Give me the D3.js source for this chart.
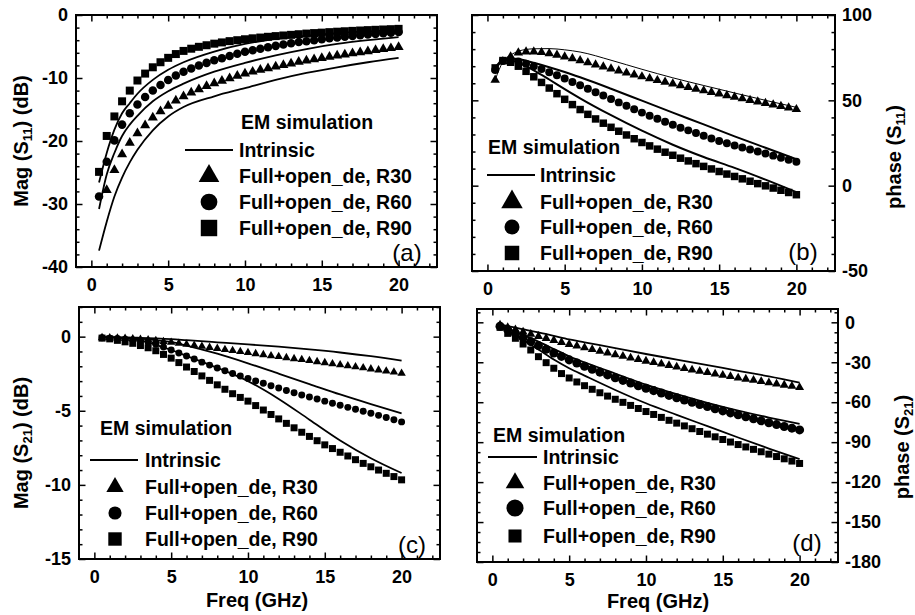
<!DOCTYPE html>
<html>
<head>
<meta charset="utf-8">
<script src="https://cdn.jsdelivr.net/npm/d3@7"></script>
<style>
  body { margin: 0; background: #fff; }
  svg { display: block; }
  text { font-family: "Liberation Sans", Arial, sans-serif; }
</style>
</head>
<body>
<svg id="fig" width="915" height="615"></svg>
<script>
// ---- data -----------------------------------------------------------------
const freq = [0.5,1,1.5,2,2.5,3,3.5,4,4.5,5,5.5,6,6.5,7,7.5,8,8.5,9,9.5,10,
              10.5,11,11.5,12,12.5,13,13.5,14,14.5,15,15.5,16,16.5,17,17.5,18,18.5,19,19.5,20];
const lineFreq = [0.5,1,1.5,2,2.5,3,4,5,6,8,10,12,14,16,18,20];

const legendTitle = "EM simulation";
const lineName = "Intrinsic";
const seriesNames = ["Full+open_de, R30", "Full+open_de, R60", "Full+open_de, R90"];

const xTicks = [0, 5, 10, 15, 20];
const s11MagTicks = [0, -10, -20, -30, -40];
const s11PhaseTicks = [100, 50, 0, -50];
const s21MagTicks = [0, -5, -10, -15];
const s21PhaseTicks = [0, -30, -60, -90, -120, -150, -180];

// Mag(S11), dB
const s11MagR30 = [null,-27.8,-24.6,-22.1,-20.3,-18.8,-17.5,-16.3,-15.3,-14.4,-13.6,-12.9,-12.3,-11.8,-11.3,-10.85,-10.45,-10.05,-9.65,-9.3,
                   -9.0,-8.7,-8.45,-8.2,-7.95,-7.7,-7.45,-7.25,-7.05,-6.85,-6.65,-6.45,-6.27,-6.1,-5.92,-5.75,-5.58,-5.42,-5.27,-5.1];
const s11MagR60 = [-28.8,-23.3,-19.9,-17.4,-15.6,-14.2,-13.0,-12.0,-11.1,-10.3,-9.6,-9.0,-8.5,-8.0,-7.6,-7.2,-6.85,-6.5,-6.15,-5.85,
                   -5.6,-5.35,-5.12,-4.9,-4.7,-4.5,-4.3,-4.15,-4.0,-3.85,-3.7,-3.57,-3.45,-3.33,-3.2,-3.1,-3.0,-2.9,-2.8,-2.7];
const s11MagR90 = [-24.9,-19.2,-16.1,-13.7,-12.0,-10.4,-9.3,-8.3,-7.5,-6.8,-6.2,-5.7,-5.35,-5.05,-4.8,-4.55,-4.35,-4.15,-4.0,-3.85,
                   -3.7,-3.58,-3.46,-3.35,-3.25,-3.15,-3.05,-2.95,-2.87,-2.8,-2.72,-2.65,-2.58,-2.52,-2.46,-2.4,-2.35,-2.3,-2.25,-2.2];
const s11MagIntR30 = [-37.4,-32.8,-28.8,-25.8,-23.4,-21.4,-18.3,-16.1,-14.6,-12.9,-11.6,-10.3,-9.2,-8.3,-7.5,-6.8];
const s11MagIntR60 = [-30.8,-25.3,-21.9,-19.2,-17.4,-16.0,-13.7,-12.1,-10.9,-9.0,-7.6,-6.4,-5.4,-4.6,-4.0,-3.5];
const s11MagIntR90 = [-26.6,-21.9,-18.2,-15.6,-14.0,-12.5,-10.3,-8.7,-7.5,-5.8,-4.6,-3.8,-3.3,-2.9,-2.6,-2.4];

// phase(S11), degrees
const s11PhaseR30 = [61.9,72.7,75.6,77.9,78.5,78.5,78.1,77.5,76.6,75.6,74.5,73.3,72.1,70.9,69.7,68.5,67.3,66.1,65.0,63.9,
                     62.8,61.7,60.7,59.7,58.7,57.7,56.7,55.7,54.7,53.8,52.8,51.9,51.0,50.1,49.2,48.3,47.4,46.5,45.6,44.7];
const s11PhaseR60 = [67.8,73.0,74.0,72.7,71.4,70.0,68.3,66.5,64.7,62.8,60.8,58.8,56.8,54.8,52.8,50.8,48.8,46.8,44.8,42.8,
                     41.0,39.2,37.4,35.7,34.0,32.4,30.8,29.2,27.7,26.2,24.9,23.6,22.4,21.2,20.0,18.8,17.6,16.4,15.2,14.0];
const s11PhaseR90 = [69.0,73.3,72.3,70.0,67.0,63.8,60.5,57.2,53.9,50.6,47.5,44.6,41.8,39.1,36.6,34.2,31.9,29.7,27.5,25.3,
                     23.3,21.4,19.6,17.8,16.1,14.5,12.9,11.3,9.8,8.3,6.8,5.4,4.0,2.6,1.2,-0.1,-1.4,-2.7,-4.0,-5.3];
const s11PhaseIntR30 = [62,72.5,76.5,78.8,79.8,80.2,80.3,79.6,78.3,73.5,68.2,63.2,58.7,54.3,50.0,45.9];
const s11PhaseIntR60 = [68,73.5,74.5,74.2,73.2,72.0,69.4,66.6,63.5,56.8,49.8,42.8,35.9,28.9,22.2,15.5];
const s11PhaseIntR90 = [69,73.5,73.5,72.0,70.0,67.6,62.2,56.6,51.2,41.3,32.2,24.0,16.8,10.4,3.5,-3.8];

// Mag(S21), dB
const s21MagR30 = [-0.07,-0.08,-0.1,-0.12,-0.15,-0.18,-0.22,-0.27,-0.33,-0.39,-0.45,-0.52,-0.59,-0.66,-0.73,-0.8,-0.87,-0.94,-1.01,-1.08,
                   -1.15,-1.22,-1.29,-1.35,-1.42,-1.49,-1.55,-1.62,-1.69,-1.76,-1.83,-1.9,-1.97,-2.04,-2.11,-2.18,-2.25,-2.32,-2.39,-2.47];
const s21MagR60 = [-0.08,-0.1,-0.13,-0.17,-0.22,-0.3,-0.4,-0.52,-0.7,-0.9,-1.1,-1.3,-1.51,-1.72,-1.92,-2.12,-2.3,-2.48,-2.65,-2.82,
                   -2.99,-3.15,-3.31,-3.47,-3.63,-3.78,-3.93,-4.07,-4.21,-4.35,-4.49,-4.63,-4.77,-4.9,-5.03,-5.17,-5.31,-5.45,-5.6,-5.75];
const s21MagR90 = [-0.1,-0.15,-0.25,-0.35,-0.45,-0.6,-0.75,-0.95,-1.2,-1.45,-1.75,-2.05,-2.35,-2.65,-2.95,-3.25,-3.55,-3.85,-4.1,-4.35,
                   -4.65,-4.95,-5.25,-5.55,-5.85,-6.15,-6.45,-6.73,-7.02,-7.3,-7.55,-7.8,-8.05,-8.3,-8.55,-8.78,-9.0,-9.22,-9.44,-9.66];
const s21MagIntR30 = [-0.03,-0.03,-0.04,-0.05,-0.06,-0.08,-0.12,-0.17,-0.24,-0.38,-0.52,-0.68,-0.86,-1.07,-1.32,-1.62];
const s21MagIntR60 = [-0.05,-0.05,-0.06,-0.08,-0.11,-0.15,-0.24,-0.36,-0.6,-1.15,-1.8,-2.5,-3.2,-3.9,-4.55,-5.17];
const s21MagIntR90 = [-0.05,-0.06,-0.08,-0.1,-0.16,-0.25,-0.55,-0.9,-1.3,-2.1,-3.0,-4.2,-5.6,-7.0,-8.2,-9.2];

// phase(S21), degrees
const s21PhaseR30 = [-2.0,-3.8,-5.5,-7.2,-8.9,-10.5,-12.0,-13.5,-15.0,-16.5,-17.8,-19.1,-20.4,-21.7,-23.0,-24.3,-25.5,-26.7,-27.9,-29.1,
                     -30.2,-31.3,-32.4,-33.5,-34.6,-35.7,-36.7,-37.7,-38.7,-39.7,-40.7,-41.7,-42.6,-43.5,-44.4,-45.3,-46.2,-47.1,-48.0,-48.9];
const s21PhaseR60 = [-3.0,-5.5,-8.5,-11.5,-14.5,-17.5,-20.3,-23.0,-25.6,-28.2,-30.6,-33.0,-35.2,-37.4,-39.5,-41.6,-43.6,-45.6,-47.6,-49.5,
                     -51.3,-53.1,-54.9,-56.6,-58.3,-60.0,-61.7,-63.3,-64.9,-66.5,-68.0,-69.5,-71.0,-72.5,-74.0,-75.4,-76.8,-78.2,-79.5,-80.8];
const s21PhaseR90 = [-3.8,-8.3,-12.0,-16.3,-20.8,-25.8,-30.3,-34.5,-38.5,-41.8,-44.8,-47.6,-50.3,-52.9,-55.4,-57.8,-60.1,-62.4,-64.7,-67.0,
                     -69.2,-71.4,-73.6,-75.7,-77.8,-79.9,-82.0,-84.0,-86.0,-88.0,-89.9,-91.8,-93.6,-95.4,-97.2,-99.0,-100.8,-102.5,-104.2,-106.0];
const s21PhaseIntR30 = [-1.5,-2.8,-4.0,-5.2,-6.4,-7.6,-10.2,-12.8,-15.0,-19.4,-23.8,-28.0,-32.2,-36.4,-40.6,-45.3];
const s21PhaseIntR60 = [-2.5,-4.5,-7.0,-9.5,-12.0,-14.5,-20.0,-25.5,-30.0,-38.5,-46.8,-54.0,-60.5,-66.3,-71.5,-76.3];
const s21PhaseIntR90 = [-3.5,-6.5,-9.8,-13.0,-16.8,-20.5,-28.0,-34.5,-40.0,-50.8,-60.8,-69.5,-78.0,-86.5,-94.8,-102.8];

// ---- panel layout ---------------------------------------------------------
const panels = [
  { tag: "(a)", box: { l: 76, r: 437, t: 15, b: 267 }, yDomain: [-40, 0], yTicks: s11MagTicks, yMinor: 2,
    labelSide: "left", xLabels: true, yTitle: ["Mag (S", "11", ") (dB)"], yTitleAt: [21, 141],
    markers: [s11MagR30, s11MagR60, s11MagR90], lines: [s11MagIntR30, s11MagIntR60, s11MagIntR90],
    lineWidths: [1.8, 1.8, 1.8], symSize: [44, 57, 64], legSize: [185, 220, 270],
    legend: { titleX: 241, titleY: 122, lineX: [185, 233], textX: 239, symX: 209, rows: [150, 176, 202, 228] },
    tagAt: [407, 253] },
  { tag: "(b)", box: { l: 472, r: 835, t: 15, b: 271 }, yDomain: [-50, 100], yTicks: s11PhaseTicks, yMinor: 10,
    labelSide: "right", xLabels: true, yTitle: ["phase (S", "11", ")"], yTitleAt: [894, 157],
    markers: [s11PhaseR30, s11PhaseR60, s11PhaseR90], lines: [s11PhaseIntR30, s11PhaseIntR60, s11PhaseIntR90],
    lineWidths: [1, 2, 2], symSize: [39, 50, 56], legSize: [200, 177, 210],
    legend: { titleX: 488, titleY: 147, lineX: [487, 535], textX: 540, symX: 512, rows: [175, 202, 227, 253] },
    tagAt: [803, 252] },
  { tag: "(c)", box: { l: 79, r: 440, t: 307, b: 559 }, yDomain: [-15, 2], yTicks: s21MagTicks, yMinor: 1,
    labelSide: "left", xLabels: true, xTitle: "Freq (GHz)", xTitleAt: [257, 607],
    yTitle: ["Mag (S", "21", ") (dB)"], yTitleAt: [21, 443],
    markers: [s21MagR30, s21MagR60, s21MagR90], lines: [s21MagIntR30, s21MagIntR60, s21MagIntR90],
    lineWidths: [1.8, 1.8, 1.8], symSize: [31, 38, 49], legSize: [130, 135, 180],
    legend: { titleX: 100, titleY: 428, lineX: [90, 138], textX: 145, symX: 115, rows: [460, 487, 513, 539] },
    tagAt: [412, 545] },
  { tag: "(d)", box: { l: 477, r: 838, t: 309, b: 562 }, yDomain: [-180, 10], yTicks: s21PhaseTicks, yMinor: 7.5,
    labelSide: "right", xLabels: true, xTitle: "Freq (GHz)", xTitleAt: [658, 608],
    yTitle: ["phase (S", "21", ")"], yTitleAt: [902, 447],
    markers: [s21PhaseR30, s21PhaseR60, s21PhaseR90], lines: [s21PhaseIntR30, s21PhaseIntR60, s21PhaseIntR90],
    lineWidths: [1.8, 1.8, 1.8], symSize: [35, 64, 49], legSize: [150, 230, 170],
    legend: { titleX: 493, titleY: 435, lineX: [488, 537], textX: 543, symX: 515, rows: [457, 483, 508, 536] },
    tagAt: [807, 543] }
];

const symbolTypes = [d3.symbolTriangle, d3.symbolCircle, d3.symbolSquare];
const svg = d3.select("#fig");
svg.append("rect").attr("width", 915).attr("height", 615).attr("fill", "#fff");

const tickFont = 18, legendFont = 19.5, titleFont = 20;

function styleAxis(g, labels) {
  g.select(".domain").remove();
  g.attr("font-family", null).attr("font-size", null);
  g.selectAll(".tick line").attr("stroke", "#000").attr("stroke-width", 1.5);
  if (labels) {
    g.selectAll(".tick text").attr("fill", "#000").attr("font-size", tickFont).attr("font-weight", "bold");
  } else {
    g.selectAll(".tick text").remove();
  }
}

panels.forEach(p => {
  const B = p.box;
  const x = d3.scaleLinear().domain([-1, 22.5]).range([B.l, B.r]);
  const y = d3.scaleLinear().domain(p.yDomain).range([B.b, B.t]);
  const g = svg.append("g");
  const fmt = d => String(d);

  const xMinor = d3.range(-1, 23, 1).filter(v => v % 5 !== 0 && v > -1);
  const yMinor = d3.range(p.yDomain[0], p.yDomain[1] + 1e-9, p.yMinor)
                   .filter(v => !p.yTicks.some(t => Math.abs(t - v) < 1e-6));

  // minor ticks on all four sides
  g.append("g").attr("transform", `translate(0,${B.b})`)
    .call(d3.axisBottom(x).tickValues(xMinor).tickSize(-3.5)).call(s => styleAxis(s, false));
  g.append("g").attr("transform", `translate(0,${B.t})`)
    .call(d3.axisTop(x).tickValues(xMinor).tickSize(-3.5)).call(s => styleAxis(s, false));
  g.append("g").attr("transform", `translate(${B.l},0)`)
    .call(d3.axisLeft(y).tickValues(yMinor).tickSize(-3.5)).call(s => styleAxis(s, false));
  g.append("g").attr("transform", `translate(${B.r},0)`)
    .call(d3.axisRight(y).tickValues(yMinor).tickSize(-3.5)).call(s => styleAxis(s, false));

  // major ticks
  g.append("g").attr("transform", `translate(0,${B.b})`)
    .call(d3.axisBottom(x).tickValues(xTicks).tickFormat(fmt).tickSize(-6.5).tickPadding(11))
    .call(s => styleAxis(s, p.xLabels));
  g.append("g").attr("transform", `translate(0,${B.t})`)
    .call(d3.axisTop(x).tickValues(xTicks).tickSize(-6.5)).call(s => styleAxis(s, false));
  g.append("g").attr("transform", `translate(${B.l},0)`)
    .call(d3.axisLeft(y).tickValues(p.yTicks).tickFormat(fmt).tickSize(-6.5).tickPadding(8))
    .call(s => styleAxis(s, p.labelSide === "left"));
  g.append("g").attr("transform", `translate(${B.r},0)`)
    .call(d3.axisRight(y).tickValues(p.yTicks).tickFormat(fmt).tickSize(-6.5).tickPadding(7))
    .call(s => styleAxis(s, p.labelSide === "right"));

  // frame
  g.append("rect").attr("x", B.l).attr("y", B.t).attr("width", B.r - B.l).attr("height", B.b - B.t)
    .attr("fill", "none").attr("stroke", "#000").attr("stroke-width", 2);

  // intrinsic curves
  const line = d3.line().x(d => x(d[0])).y(d => y(d[1])).curve(d3.curveMonotoneX);
  p.lines.forEach((vals, i) => {
    g.append("path").datum(lineFreq.map((f, k) => [f, vals[k]]))
      .attr("d", line).attr("fill", "none").attr("stroke", "#000")
      .attr("stroke-width", p.lineWidths[i]).attr("stroke-linejoin", "round");
  });

  // EM markers
  p.markers.forEach((vals, i) => {
    const pts = freq.map((f, k) => [f, vals[k]]).filter(d => d[1] != null);
    g.append("g").selectAll("path").data(pts).join("path")
      .attr("transform", d => `translate(${x(d[0])},${y(d[1])})`)
      .attr("d", d3.symbol(symbolTypes[i], p.symSize[i]))
      .attr("fill", "#000");
  });

  // legend
  const L = p.legend;
  g.append("text").attr("x", L.titleX).attr("y", L.titleY).attr("dy", "0.35em")
    .attr("font-size", legendFont).attr("font-weight", "bold").text(legendTitle);
  g.append("line").attr("x1", L.lineX[0]).attr("x2", L.lineX[1]).attr("y1", L.rows[0]).attr("y2", L.rows[0])
    .attr("stroke", "#000").attr("stroke-width", 2);
  g.append("text").attr("x", L.textX).attr("y", L.rows[0]).attr("dy", "0.35em")
    .attr("font-size", legendFont).attr("font-weight", "bold").text(lineName);
  seriesNames.forEach((name, i) => {
    const cy = L.rows[i + 1];
    g.append("path").attr("transform", `translate(${L.symX},${cy})`)
      .attr("d", d3.symbol(symbolTypes[i], p.legSize[i])).attr("fill", "#000");
    g.append("text").attr("x", L.textX).attr("y", cy).attr("dy", "0.35em")
      .attr("font-size", legendFont).attr("font-weight", "bold").text(name);
  });

  // panel tag
  g.append("text").attr("x", p.tagAt[0]).attr("y", p.tagAt[1]).attr("dy", "0.35em")
    .attr("text-anchor", "middle").attr("font-size", 24).text(p.tag);

  // y title (rotated, reads bottom to top)
  const yt = g.append("text").attr("transform", `translate(${p.yTitleAt[0]},${p.yTitleAt[1]}) rotate(-90)`)
    .attr("text-anchor", "middle").attr("dy", "0.35em")
    .attr("font-size", titleFont).attr("font-weight", "bold");
  yt.append("tspan").text(p.yTitle[0]);
  yt.append("tspan").attr("font-size", 13).attr("dy", 4).text(p.yTitle[1]);
  yt.append("tspan").attr("dy", -4).text(p.yTitle[2]);

  if (p.xTitle) {
    g.append("text").attr("x", p.xTitleAt[0]).attr("y", p.xTitleAt[1])
      .attr("text-anchor", "middle").attr("font-size", titleFont).attr("font-weight", "bold").text(p.xTitle);
  }
});
</script>
</body>
</html>
